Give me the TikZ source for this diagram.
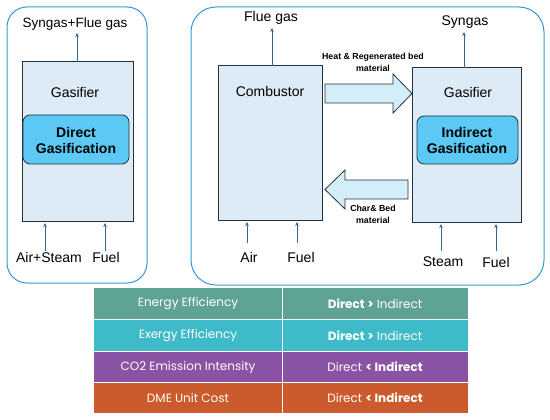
\documentclass[tikz,border=0pt]{standalone}
\usepackage{fontspec}
\setmainfont{Liberation Sans}
\newfontfamily\tabfont{Poppins}
\usetikzlibrary{arrows.meta,shapes.arrows}
\definecolor{outerc}{HTML}{2E9BD6}
\definecolor{boxfill}{HTML}{DDEBF7}
\definecolor{boxline}{HTML}{23323F}
\definecolor{innerfill}{HTML}{5CC9F5}
\definecolor{arrc}{HTML}{2E6A8E}
\definecolor{bigfill}{HTML}{D3EEF8}
\definecolor{rowA}{HTML}{5FA296}
\definecolor{rowB}{HTML}{3EBAC8}
\definecolor{rowC}{HTML}{8B53A3}
\definecolor{rowD}{HTML}{CB5B2C}
\begin{document}
\begin{tikzpicture}[x=1pt,y=-1pt,
  outer/.style={draw=outerc,line width=1pt,rounded corners=20pt},
  reactor/.style={draw=boxline,fill=boxfill,line width=1pt},
  inner/.style={draw=boxline,fill=innerfill,line width=0.8pt,rounded corners=7pt},
  flow/.style={draw=arrc,line width=0.9pt,-{Stealth[length=4pt,width=3.5pt]}},
  lbl/.style={font=\fontsize{14}{16}\selectfont,inner sep=0pt},
  bold/.style={font=\fontsize{14}{17}\selectfont\bfseries,align=center,inner sep=0pt},
  small/.style={font=\fontsize{8.8}{12}\selectfont\bfseries,align=center,inner sep=0pt},
  big/.style={draw=boxline,fill=bigfill,line width=0.8pt},
  cell/.style={text=white,font=\tabfont\fontsize{12}{14}\selectfont,inner sep=0pt}
]
\useasboundingbox (0,0) rectangle (550,420);
% left panel
\draw[outer] (7,7) rectangle (147,283);
\draw[reactor] (22,62) rectangle (133,222);
\coordinate (lg) at (77,62);
\node[lbl] at (75,92) {Gasifier};
\draw[inner] (23,115) rectangle (129,164);
\node[bold] at (76,140) {Direct\\[-1pt]Gasification};
\node[lbl,font=\fontsize{13.5}{16}\selectfont] (sfg) at (75,24) {Syngas+Flue gas};
\draw[flow] (lg) -- (77,33);
\node[lbl] (as) at (49,257) {Air+Steam};
\node[lbl] (lf) at (106,257) {Fuel};
\draw[flow] (45,251) -- (45,223);
\draw[flow] (105,251) -- (105,223);
% right panel
\draw[outer,rounded corners=25pt] (191,7) rectangle (544,285);
\draw[reactor] (218,66) rectangle (322,221);
\node[lbl] at (270,91) {Combustor};
\node[lbl] (fg) at (271,18) {Flue gas};
\draw[flow] (272,66) -- (272,28);
\draw[reactor] (412,68) rectangle (521,223);
\node[lbl] at (468,92) {Gasifier};
\draw[inner] (417,116) rectangle (518,164);
\node[bold] at (467,140) {Indirect\\[-1pt]Gasification};
\node[lbl] (sg) at (465,22) {Syngas};
\draw[flow] (464,68) -- (464,32);
\node[lbl] (air) at (249,257) {Air};
\node[lbl] (cf) at (301,257) {Fuel};
\draw[flow] (247,243) -- (247,222);
\draw[flow] (297,243) -- (297,222);
\node[lbl] (st) at (443,262) {Steam};
\node[lbl] (gf) at (496,262) {Fuel};
\draw[flow] (441,251) -- (441,224);
\draw[flow] (496,251) -- (496,224);
% block arrows
\draw[big] (325,84) -- (393,84) -- (393,74) -- (412,93.5) -- (393,113) -- (393,103) -- (325,103) -- cycle;
\draw[big] (408,180) -- (345,180) -- (345,170) -- (325,189.5) -- (345,209) -- (345,199) -- (408,199) -- cycle;
\node[small] at (373,62) {Heat \& Regenerated bed\\material};
\node[small] at (373,214.5) {Char\& Bed\\material};
% table
\fill[rowA] (94,288) rectangle (468,319);
\fill[rowB] (94,319) rectangle (468,351);
\fill[rowC] (94,351) rectangle (468,382);
\fill[rowD] (94,382) rectangle (468,413);
\draw[white,line width=1pt] (94,319) -- (468,319) (94,351) -- (468,351) (94,382) -- (468,382) (282,288) -- (282,413);
\node[cell] at (188,304) {Energy Efficiency};
\node[cell] at (375,304) {\textbf{Direct >} Indirect};
\node[cell] at (188,335.5) {Exergy Efficiency};
\node[cell] at (375,335.5) {\textbf{Direct >} Indirect};
\node[cell] at (188,367) {CO2 Emission Intensity};
\node[cell] at (375,367) {Direct \textbf{< Indirect}};
\node[cell] at (188,398) {DME Unit Cost};
\node[cell] at (375,398) {Direct \textbf{< Indirect}};
\end{tikzpicture}
\end{document}
